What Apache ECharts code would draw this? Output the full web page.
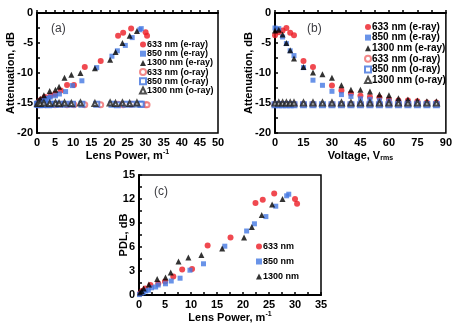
<!DOCTYPE html>
<html>
<head>
<meta charset="utf-8">
<script src="https://cdn.jsdelivr.net/npm/echarts@6/dist/echarts.min.js"></script>
<style>
  html, body { margin: 0; padding: 0; background: #fff; }
  #main { width: 455px; height: 325px; }
</style>
</head>
<body>
<div id="main"></div>
<script>
// lens power (m^-1) for each wavelength, shared by panels (a) and (c)
var lp633 = [0.2, 0.6, 1.2, 2.2, 3.7, 5.0, 6.6, 8.3, 10.2, 13.2, 17.6, 22.4, 23.8, 26.0, 30.0, 30.4]
var lp850 = [0.1, 0.4, 0.8, 1.3, 1.8, 2.4, 3.2, 3.7, 5.1, 6.2, 7.9, 9.8, 12.4, 16.5, 20.7, 22.2, 24.4, 26.3, 28.4, 28.8]
var lp1300 = [0.2, 0.5, 0.9, 1.9, 3.5, 5.1, 6.1, 7.6, 9.5, 12.0, 16.0, 20.2, 21.7, 23.6, 25.6, 27.6]

// (a) attenuation vs lens power, dB
var att633e = [-15.0, -14.7, -14.4, -14.0, -13.8, -13.5, -12.9, -12.0, -12.0, -9.0, -8.0, -3.8, -3.3, -2.6, -3.2, -3.8]
var att850e = [-15.1, -15.0, -14.9, -14.7, -14.6, -14.3, -14.2, -14.0, -13.8, -13.5, -13.1, -12.1, -11.3, -9.1, -7.2, -6.3, -5.4, -4.1, -2.8, -2.6]
var att1300e = [-14.9, -14.6, -14.3, -13.7, -13.0, -12.8, -12.3, -10.8, -10.3, -10.0, -9.2, -7.8, -6.5, -5.0, -3.8, -3.0]
var att633o = [-15.3, -15.3, -15.2, -15.3, -15.2, -15.3, -15.2, -15.3, -15.3, -15.3, -15.3, -15.2, -15.3, -15.2, -15.3, -15.3]
var att850o = [-15.2, -15.2, -15.3, -15.2, -15.2, -15.2, -15.3, -15.2, -15.2, -15.2, -15.2, -15.2, -15.2, -15.2, -15.2, -15.3, -15.2, -15.2, -15.2, -15.2]
var att1300o = [-15.1, -15.0, -15.1, -15.0, -15.1, -15.0, -15.1, -15.0, -15.1, -15.0, -15.1, -15.0, -15.1, -15.0, -15.1, -15.0]

// (b) attenuation vs drive voltage
var volt633 = [0, 2, 4, 6, 8, 10, 15, 20, 30, 35, 40, 45, 50, 55, 60, 65, 70, 75, 80, 85]
var volt = [0, 2, 4, 6, 8, 10, 15, 20, 25, 30, 35, 40, 45, 50, 55, 60, 65, 70, 75, 80, 85]
var v633e = [-3.7, -3.2, -2.9, -2.5, -3.3, -3.7, -8.0, -9.0, -12.1, -12.9, -13.4, -13.8, -14.0, -14.1, -14.4, -14.6, -14.6, -14.7, -14.9, -14.9]
var v850e = [-2.5, -2.6, -4.0, -5.1, -6.3, -7.1, -9.1, -11.2, -12.05, -13.05, -13.6, -13.9, -14.3, -14.4, -14.6, -14.7, -14.8, -14.9, -15.0, -15.1, -15.1]
var v1300e = [-2.9, -2.8, -3.6, -5.0, -6.2, -7.6, -9.0, -9.9, -10.2, -10.8, -12.05, -12.8, -12.8, -13.1, -13.6, -13.7, -14.2, -14.4, -14.6, -14.8, -14.8]
var v633o = [-15.2, -15.2, -15.2, -15.2, -15.2, -15.2, -15.2, -15.2, -15.2, -15.2, -15.2, -15.2, -15.2, -15.2, -15.2, -15.2, -15.2, -15.2, -15.2, -15.2]
var v850o = [-15.3, -15.3, -15.3, -15.3, -15.3, -15.3, -15.3, -15.3, -15.3, -15.3, -15.3, -15.3, -15.3, -15.3, -15.3, -15.3, -15.3, -15.3, -15.3, -15.3, -15.3]
var v1300o = [-15.0, -15.0, -15.0, -15.0, -15.0, -15.0, -15.0, -15.0, -15.0, -15.0, -15.0, -15.0, -15.0, -15.0, -15.0, -15.0, -15.0, -15.0, -15.0, -15.0, -15.0]

// (c) polarization dependent loss, dB
var pdl633 = [0.2, 0.5, 0.8, 1.25, 1.45, 1.7, 2.3, 3.2, 3.25, 6.2, 7.2, 11.5, 11.9, 12.7, 12.0, 11.4]
var pdl850 = [0.05, 0.2, 0.3, 0.5, 0.6, 0.9, 1.0, 1.25, 1.4, 1.75, 2.1, 3.1, 3.9, 6.1, 8.0, 8.9, 9.8, 11.1, 12.4, 12.6]
var pdl1300 = [0.3, 0.5, 0.8, 1.3, 2.0, 2.2, 2.8, 4.2, 4.7, 5.0, 5.8, 7.2, 8.5, 10.0, 11.3, 12.0]

var legendAB = ['633 nm (e-ray)', '850 nm (e-ray)', '1300 nm (e-ray)', '633 nm (o-ray)', '850 nm (o-ray)', '1300 nm (o-ray)']
var legendC = ['633 nm', '850 nm', '1300 nm']

var FONT = 'Liberation Sans, Arial, sans-serif'
var RED = '#ec1c24', BLUE = '#4378e2', BLACK = '#000'

function zip(xs, ys) {
  return xs.map(function (x, i) { return [x, ys[i]] })
}

function sc(name, xs, ys, idx, symbol, color, size, hollow) {
  return {
    type: 'scatter',
    name: name,
    xAxisIndex: idx,
    yAxisIndex: idx,
    data: zip(xs, ys),
    symbol: symbol,
    symbolSize: size,
    itemStyle: hollow ? { color: color, borderColor: color, borderWidth: 1 } : { color: color },
    emphasis: { disabled: true }
  }
}

function xAx(idx, max, interval, name) {
  return {
    type: 'value', gridIndex: idx, min: 0, max: max, interval: interval,
    name: name, nameLocation: 'middle', nameGap: 16, nameMoveOverlap: false,
    nameTextStyle: {
      rich: {
        t: { fontSize: 11, fontWeight: 'bold', fontFamily: FONT, lineHeight: 13, color: '#000' },
        sup: { fontSize: 7, fontWeight: 'bold', fontFamily: FONT, verticalAlign: 'top', lineHeight: 13, color: '#000' },
        sub: { fontSize: 7, fontWeight: 'bold', fontFamily: FONT, verticalAlign: 'bottom', lineHeight: 11, color: '#000' }
      }
    },
    axisLine: { lineStyle: { color: '#000', width: 2 } },
    axisTick: { inside: true, length: 3, lineStyle: { color: '#000', width: 1.5 } },
    minorTick: { show: true, splitNumber: 2, length: 3, lineStyle: { color: '#000', width: 1.5 } },
    axisLabel: { fontSize: 11, fontWeight: 'bold', fontFamily: FONT, color: '#000', margin: 4 },
    splitLine: { show: false }
  }
}

function yAx(idx, min, max, interval, name, gap) {
  return {
    type: 'value', gridIndex: idx, min: min, max: max, interval: interval,
    name: name, nameLocation: 'middle', nameGap: gap, nameMoveOverlap: false,
    nameTextStyle: { fontSize: 11, fontWeight: 'bold', fontFamily: FONT, color: '#000' },
    axisLine: { lineStyle: { color: '#000', width: 2 } },
    axisTick: { inside: true, length: 3, lineStyle: { color: '#000', width: 1.5 } },
    minorTick: { show: true, splitNumber: 2, length: 3, lineStyle: { color: '#000', width: 1.5 } },
    axisLabel: { fontSize: 11, fontWeight: 'bold', fontFamily: FONT, color: '#000', margin: 4 },
    splitLine: { show: false }
  }
}

function leg(idx, left, top, names, fs, gap) {
  return {
    left: left, top: top, orient: 'vertical', padding: 0,
    itemWidth: 6, itemHeight: 6, itemGap: gap,
    selectedMode: false,
    data: names,
    textStyle: { fontSize: fs, fontWeight: 'bold', fontFamily: FONT, color: '#000', lineHeight: fs, padding: [0, 0, 0, -4] }
  }
}

var gridStyle = { show: true, borderColor: '#000', borderWidth: 1.5, containLabel: false }

var option = {
  backgroundColor: '#fff',
  animation: false,
  grid: [
    Object.assign({ left: 37, top: 13, width: 181, height: 120 }, gridStyle),
    Object.assign({ left: 275, top: 13, width: 172, height: 120 }, gridStyle),
    Object.assign({ left: 139, top: 175, width: 182, height: 120 }, gridStyle)
  ],
  title: [
    { text: '(a)', left: 46, top: 18, textStyle: { fontSize: 12, fontWeight: 'normal', fontFamily: FONT } },
    { text: '(b)', left: 302, top: 18, textStyle: { fontSize: 12, fontWeight: 'normal', fontFamily: FONT } },
    { text: '(c)', left: 149, top: 181, textStyle: { fontSize: 12, fontWeight: 'normal', fontFamily: FONT } }
  ],
  legend: [
    leg(0, 139, 40, legendAB, 9, 0.2),
    leg(1, 364, 22, legendAB, 10, 0.6),
    leg(2, 256, 242, legendC, 9, 6)
  ],
  xAxis: [
    xAx(0, 50, 5, '{t|Lens Power, m}{sup|-1}'),
    xAx(1, 90, 15, '{t|Voltage, V}{sub|rms}'),
    xAx(2, 35, 5, '{t|Lens Power, m}{sup|-1}')
  ],
  yAxis: [
    yAx(0, -20, 0, 5, 'Attenuation, dB', 21),
    yAx(1, -20, 0, 5, 'Attenuation, dB', 21),
    yAx(2, 0, 15, 3, 'PDL, dB', 10)
  ],
  series: [
    sc(legendAB[0], lp633, att633e, 0, 'circle', RED, 6),
    sc(legendAB[1], lp850, att850e, 0, 'rect', BLUE, 5),
    sc(legendAB[2], lp1300, att1300e, 0, 'triangle', BLACK, 6),
    sc(legendAB[3], lp633, att633o, 0, 'emptyCircle', '#ef6b6b', 5, true),
    sc(legendAB[4], lp850, att850o, 0, 'emptyRect', '#3f70dc', 5, true),
    sc(legendAB[5], lp1300, att1300o, 0, 'emptyTriangle', '#222', 5, true),

    sc(legendAB[0], volt633, v633e, 1, 'circle', RED, 6),
    sc(legendAB[1], volt, v850e, 1, 'rect', BLUE, 5),
    sc(legendAB[2], volt, v1300e, 1, 'triangle', BLACK, 6),
    sc(legendAB[3], volt633, v633o, 1, 'emptyCircle', '#ef6b6b', 5, true),
    sc(legendAB[4], volt, v850o, 1, 'emptyRect', '#3f70dc', 5, true),
    sc(legendAB[5], volt, v1300o, 1, 'emptyTriangle', '#222', 5, true),

    sc(legendC[0], lp633, pdl633, 2, 'circle', RED, 6),
    sc(legendC[1], lp850, pdl850, 2, 'rect', BLUE, 5),
    sc(legendC[2], lp1300, pdl1300, 2, 'triangle', BLACK, 6)
  ]
}

var chart = echarts.init(document.getElementById('main'), null, { renderer: 'canvas' })
chart.setOption(option)
</script>
</body>
</html>
